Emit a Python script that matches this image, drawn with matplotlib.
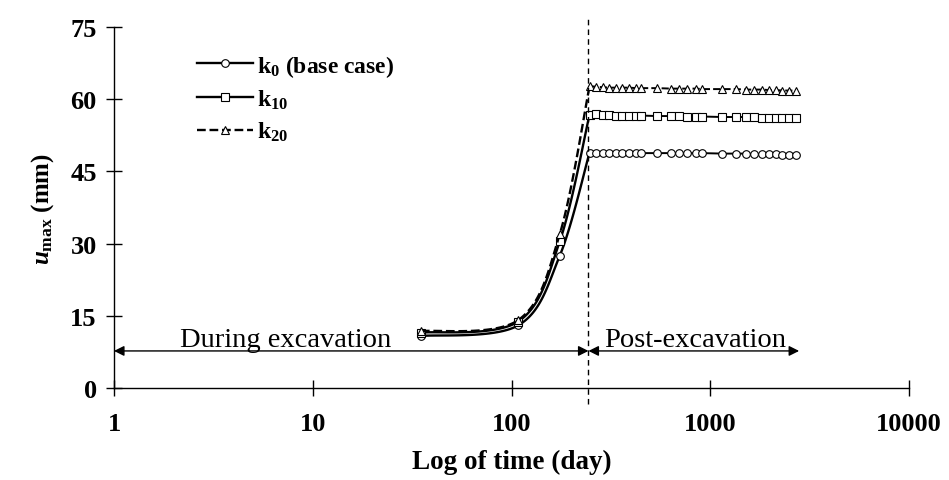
import numpy as np
import matplotlib
matplotlib.use("Agg")
import matplotlib.pyplot as plt

plt.rcParams['font.family'] = ['Liberation Serif', 'DejaVu Serif']
plt.rcParams['mathtext.fontset'] = 'custom'
plt.rcParams['mathtext.rm'] = 'Liberation Serif:bold'
plt.rcParams['mathtext.it'] = 'Liberation Serif:italic:bold'
plt.rcParams['mathtext.bf'] = 'Liberation Serif:bold'

# during excavation (days, mm)
t_during = [35, 108, 175, 247]
k0_during = [10.8, 13.0, 27.5, 48.9]
k10_during = [11.5, 13.8, 30.5, 56.8]
k20_during = [11.8, 14.1, 32.0, 62.7]

# post excavation
t_post = [247, 267, 287, 311, 337, 361, 392, 425, 450, 541, 637, 699, 766,
          851, 912, 1149, 1351, 1517, 1663, 1825, 1978, 2147, 2301, 2495, 2706]
k0_post = [48.9, 48.9, 48.9, 48.9, 48.9, 48.9, 48.9, 48.8, 48.8, 48.8, 48.8,
           48.8, 48.8, 48.8, 48.8, 48.7, 48.7, 48.7, 48.6, 48.6, 48.6, 48.6,
           48.5, 48.5, 48.5]
k10_post = [56.8, 56.9, 56.8, 56.7, 56.6, 56.6, 56.6, 56.6, 56.6, 56.5, 56.5,
            56.5, 56.4, 56.4, 56.4, 56.3, 56.3, 56.3, 56.2, 56.1, 56.1, 56.1,
            56.0, 56.0, 56.0]
k20_post = [62.7, 62.6, 62.5, 62.4, 62.4, 62.4, 62.4, 62.3, 62.3, 62.3, 62.2,
            62.2, 62.2, 62.2, 62.1, 62.1, 62.1, 62.0, 62.0, 62.0, 61.9, 61.9,
            61.8, 61.8, 61.8]

t_end = 244       # end of excavation
t_post_end = 2800


def smooth(t, y, n=40):
    # catmull-rom through the points in screen-like space (like excel smoothing)
    u = np.log10(t) / 4 * 795
    v = np.array(y) / 75 * 361
    p = np.column_stack([u, v])
    p = np.vstack([p[0], p, p[-1]])
    out = []
    for i in range(1, len(p) - 2):
        p0, p1, p2, p3 = p[i - 1], p[i], p[i + 1], p[i + 2]
        c1 = p1 + (p2 - p0) / 6
        c2 = p2 - (p3 - p1) / 6
        s = np.linspace(0, 1, n)[:, None]
        seg = ((1 - s) ** 3 * p1 + 3 * (1 - s) ** 2 * s * c1
               + 3 * (1 - s) * s ** 2 * c2 + s ** 3 * p2)
        out.append(seg)
    out = np.vstack(out)
    return 10 ** (out[:, 0] / 795 * 4), out[:, 1] / 361 * 75


fig = plt.figure(figsize=(9.49, 4.81), dpi=100)
ax = fig.add_axes([114 / 949, 92 / 481, 795 / 949, 361 / 481])

series = [
    (k0_during, k0_post, 'o', '-', r'$\mathbf{k_{0}}$ (base case)'),
    (k10_during, k10_post, 's', '-', r'$\mathbf{k_{10}}$'),
    (k20_during, k20_post, '^', '--', r'$\mathbf{k_{20}}$'),
]
for yd, yp, m, ls, lab in series:
    sx, sy = smooth(t_during, yd)
    ax.plot(sx, sy, color='black', ls=ls, lw=1.7)
    ax.plot(t_post, yp, color='black', ls=ls, lw=1.4)
    ax.plot(t_during + t_post[1:], yd + yp[1:], ls='none', marker=m, ms=5.5,
            mfc='white', mec='black', mew=0.8)
    ax.plot([], [], color='black', ls=ls, lw=1.7, marker=m, ms=5.5,
            mfc='white', mec='black', mew=0.8, label=lab)

ax.set_xscale('log')
ax.set_xlim(1, 10000)
ax.set_ylim(0, 75)
ax.set_yticks([0, 15, 30, 45, 60, 75])
ax.set_xticks([1, 10, 100, 1000, 10000])
ax.set_xticklabels(['1', '10', '100', '1000', '10000'])
ax.xaxis.set_minor_locator(matplotlib.ticker.NullLocator())
for s in ['top', 'right']:
    ax.spines[s].set_visible(False)
for s in ['left', 'bottom']:
    ax.spines[s].set_linewidth(1.0)
ax.tick_params(direction='inout', length=11, width=1, labelsize=19)
ax.tick_params(axis='y', pad=7)
ax.tick_params(axis='x', pad=12)
for lb in ax.get_xticklabels() + ax.get_yticklabels():
    lb.set_fontweight('bold')

ax.set_xlabel('Log of time (day)', fontsize=19.5, fontweight='bold',
              labelpad=10)
ax.set_ylabel(r'$\mathit{u}_{\mathrm{max}}$ (mm)', fontsize=18,
              fontweight='bold', labelpad=10)

# end of excavation line
ax.plot([t_end, t_end], [-3.3, 77], color='black', ls=(0, (4, 3)), lw=1,
        clip_on=False)

arrow = dict(arrowstyle='<|-|>', color='black', lw=1, mutation_scale=15,
             shrinkA=0, shrinkB=0)
ax.annotate('', xy=(1, 7.7), xytext=(t_end, 7.7), arrowprops=arrow,
            annotation_clip=False)
ax.annotate('', xy=(t_end, 7.7), xytext=(t_post_end, 7.7), arrowprops=arrow)
ax.text(7.27, 8.7, 'During excavation', fontsize=20.5, ha='center',
        va='baseline')
ax.text(841, 8.7, 'Post-excavation', fontsize=20.5, ha='center',
        va='baseline')

leg = ax.legend(loc='upper left', bbox_to_anchor=(0.092, 0.955), frameon=False,
                fontsize=17, handlelength=2.4, handletextpad=0.15,
                labelspacing=0.38, borderaxespad=0)
for tx in leg.get_texts():
    tx.set_fontweight('bold')

fig.savefig('out.png', dpi=100)
